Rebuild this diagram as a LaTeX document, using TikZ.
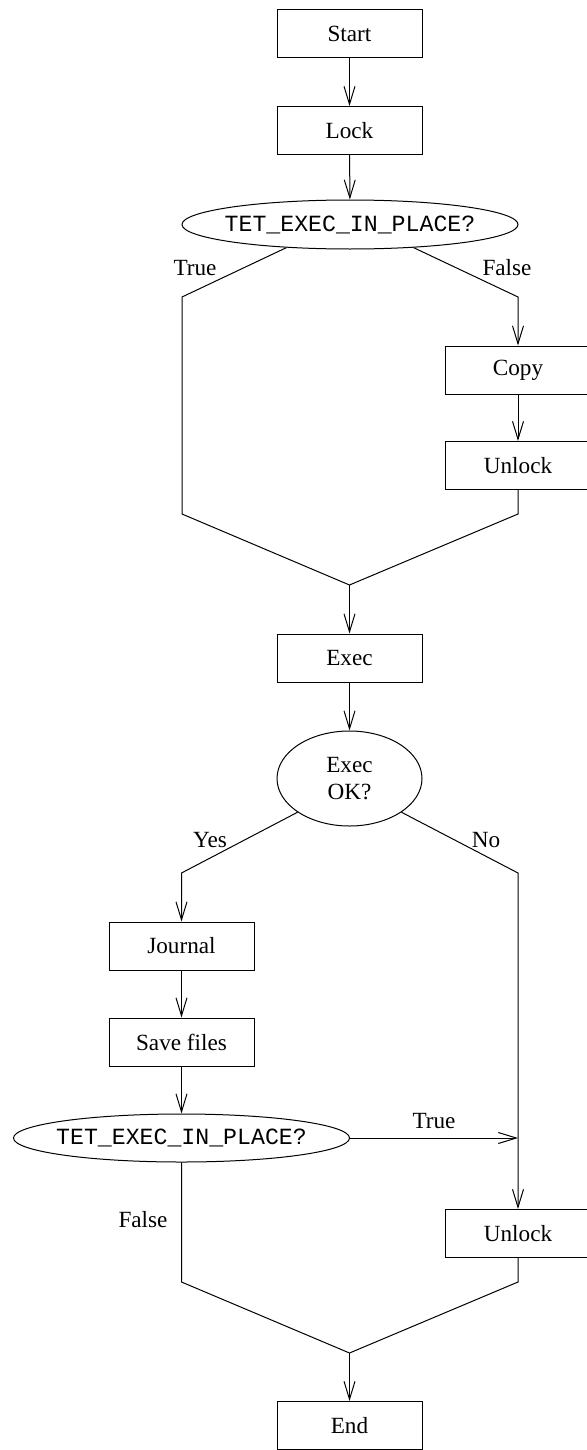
\documentclass[tikz,border=0pt]{standalone}
\usepackage{fontspec}
\setmainfont{Liberation Serif}
\setmonofont{Liberation Mono}
\usetikzlibrary{shapes.geometric,arrows.meta}
\begin{document}
\begin{tikzpicture}[x=0.5pt,y=-0.5pt,
  every node/.style={font=\fontsize{11.6}{13.5}\selectfont},
  proc/.style={draw, line width=0.5pt, minimum width=72.5pt, minimum height=24pt, inner sep=0pt},
  cond/.style={draw, ellipse, line width=0.5pt, inner sep=0pt},
  mono/.style={font=\fontsize{11.6}{13.5}\selectfont\ttfamily, inner xsep=-4pt},
  flow/.style={line width=0.5pt},
  arr/.style={flow, -{Straight Barb[length=9pt,width=5.5pt]}},
  lbl/.style={inner sep=0pt}]
\useasboundingbox (0,0) rectangle (586,1450);
% nodes
\node[proc] (start) at (349.5,33.5) {Start};
\node[proc] (lock) at (349.5,130.5) {Lock};
\node[cond, mono, minimum width=168pt, minimum height=24.5pt] (e1) at (350,224.5) {TET\_EXEC\_IN\_PLACE?};
\node[proc] (copy) at (518,370) {Copy};
\node[proc] (unlock1) at (518,465.5) {Unlock};
\node[proc] (exec) at (349.5,658) {Exec};
\node[cond, minimum width=72.5pt, minimum height=47.5pt, align=center] (ok) at (349.5,778.5) {Exec\\OK?};
\node[proc] (journal) at (181.5,946) {Journal};
\node[proc] (save) at (181.5,1042) {Save files};
\node[cond, mono, minimum width=168pt, minimum height=24pt] (e2) at (181.5,1138) {TET\_EXEC\_IN\_PLACE?};
\node[proc] (unlock2) at (518,1233.5) {Unlock};
\node[proc] (end) at (349.5,1425.5) {End};
% coordinates
\coordinate (tl) at (182,297);
\coordinate (bl) at (182,514);
\coordinate (tr) at (518,297);
\coordinate (br) at (518,514);
\coordinate (j1) at (349.5,585);
\coordinate (yl) at (181.5,873);
\coordinate (nr) at (518,873);
\coordinate (tm) at (518,1138);
\coordinate (fl) at (181.5,1282);
\coordinate (fr) at (518,1282);
\coordinate (j2) at (349.5,1353);
% connectors
\draw[arr] (start) -- (lock);
\draw[arr] (lock) -- (e1);
\draw[flow] (e1.200) -- (tl) -- (bl) -- (j1);
\draw[arr] (e1.-20) -- (tr) -- (copy);
\draw[arr] (copy) -- (unlock1);
\draw[flow] (unlock1) -- (br) -- (j1);
\draw[arr] (j1) -- (exec);
\draw[arr] (exec) -- (ok);
\draw[arr] (ok.213) -- (yl) -- (journal);
\draw[arr] (journal) -- (save);
\draw[arr] (save) -- (e2);
\draw[arr] (ok.-33) -- (nr) -- (unlock2);
\draw[arr] (e2) -- (tm);
\draw[flow] (e2) -- (fl) -- (j2);
\draw[flow] (unlock2) -- (fr) -- (j2);
\draw[arr] (j2) -- (end);
% labels
\node[lbl] (l1) at (195,268) {True};
\node[lbl] (l2) at (507,268) {False};
\node[lbl] (l3) at (210,840) {Yes};
\node[lbl] (l4) at (486,840) {No};
\node[lbl] (l5) at (434,1121) {True};
\node[lbl] (l6) at (143,1220) {False};
\end{tikzpicture}
\end{document}
